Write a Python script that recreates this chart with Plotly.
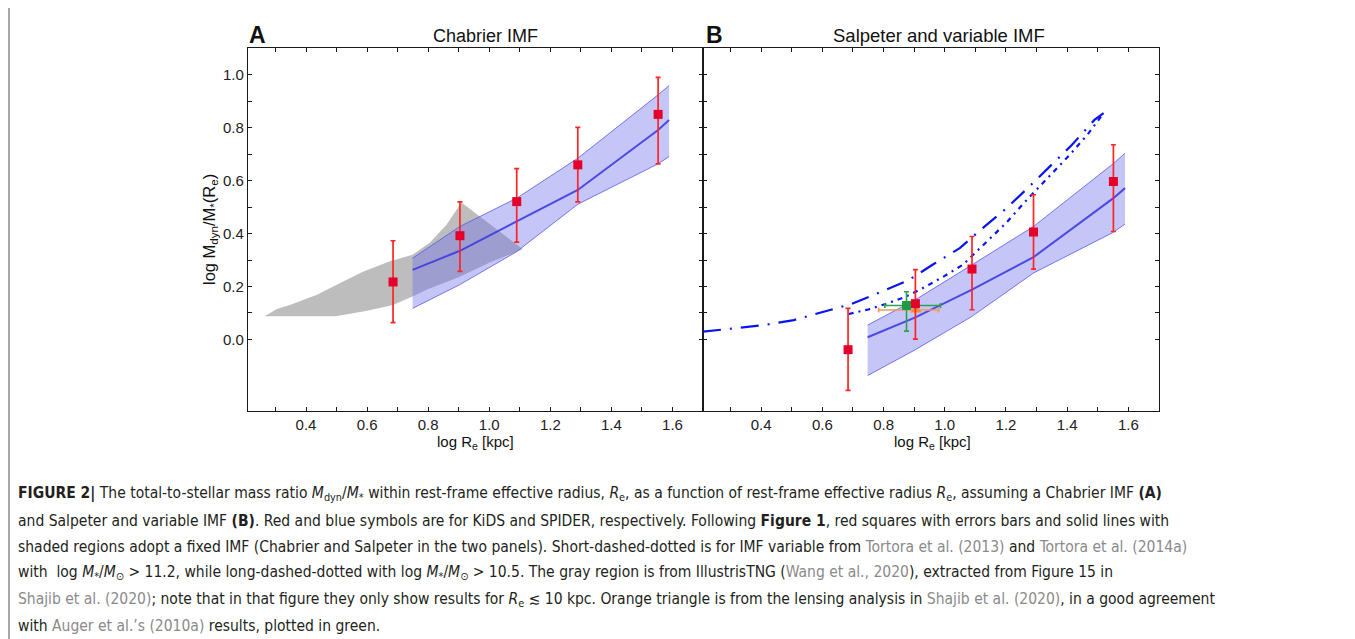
import plotly.graph_objects as go

# the page body has an 8px margin: the figure is sized/offset to fill the window
OFF = 8
W, H = 1355 - OFF, 639 - OFF

# ---------------- data ----------------
# Panel A (Chabrier IMF) - KiDS red squares
a_x = [0.685, 0.904, 1.090, 1.290, 1.553]
a_y = [0.217, 0.392, 0.521, 0.660, 0.851]
a_hi = [0.373, 0.520, 0.646, 0.802, 0.991]
a_lo = [0.063, 0.257, 0.368, 0.520, 0.664]

# Panel A - SPIDER line with band
a_line_x = [0.749, 0.904, 1.090, 1.290, 1.553, 1.589]
a_line_y = [0.263, 0.335, 0.446, 0.565, 0.792, 0.830]
a_band_up = [0.307, 0.427, 0.534, 0.685, 0.925, 0.960]
a_band_lo = [0.117, 0.207, 0.332, 0.511, 0.664, 0.691]

# Panel A - IllustrisTNG gray region
tng_up_x = [0.264, 0.305, 0.349, 0.436, 0.512, 0.588, 0.675, 0.749, 0.806, 0.860, 0.882, 0.909, 1.110]
tng_up_y = [0.087, 0.115, 0.131, 0.169, 0.213, 0.257, 0.295, 0.320, 0.366, 0.433, 0.471, 0.518, 0.341]
tng_lo_x = [1.110, 1.000, 0.900, 0.800, 0.750, 0.685, 0.600, 0.498, 0.264]
tng_lo_y = [0.341, 0.290, 0.235, 0.190, 0.163, 0.130, 0.108, 0.087, 0.087]

# Panel B (Salpeter and variable IMF) - KiDS red squares
b_x = [0.684, 0.904, 1.089, 1.290, 1.551]
b_y = [-0.039, 0.135, 0.266, 0.406, 0.597]
b_hi = [0.117, 0.264, 0.389, 0.547, 0.736]
b_lo = [-0.193, 0.001, 0.112, 0.266, 0.408]

# Panel B - SPIDER line with band
b_line_x = [0.748, 0.904, 1.089, 1.290, 1.551, 1.589]
b_line_y = [0.008, 0.083, 0.188, 0.311, 0.534, 0.572]
b_band_up = [0.054, 0.150, 0.282, 0.427, 0.665, 0.704]
b_band_lo = [-0.137, -0.039, 0.087, 0.251, 0.405, 0.436]

# Panel B - variable IMF, log M* > 10.5 (long-dashed-dotted)
var105_x = [0.210, 0.308, 0.409, 0.507, 0.601, 0.696, 0.791, 0.879, 0.964, 1.049, 1.124, 1.199, 1.271, 1.343, 1.415, 1.489, 1.519]
var105_y = [0.029, 0.041, 0.054, 0.073, 0.103, 0.134, 0.179, 0.222, 0.285, 0.345, 0.421, 0.493, 0.572, 0.652, 0.735, 0.830, 0.856]

# Panel B - variable IMF, log M* > 11.2 (short-dashed-dotted)
var112_x = [0.686, 0.750, 0.810, 0.870, 0.930, 1.000, 1.060, 1.130, 1.200, 1.270, 1.340, 1.410, 1.470, 1.519]
var112_y = [0.096, 0.113, 0.135, 0.160, 0.195, 0.240, 0.283, 0.360, 0.440, 0.530, 0.615, 0.700, 0.780, 0.856]

# Panel B - Auger et al. (2010a), green
aug_x, aug_y = [0.875], [0.128]
aug_xlo, aug_xhi = [0.804], [0.986]
aug_ylo, aug_yhi = [0.031], [0.180]

# Panel B - Shajib et al. (2020) lensing, orange
sha_x, sha_y = [0.906], [0.111]
sha_xlo, sha_xhi = [0.784], [0.980]

x_tick_vals = [0.4, 0.6, 0.8, 1.0, 1.2, 1.4, 1.6]
x_tick_text = ["0.4", "0.6", "0.8", "1.0", "1.2", "1.4", "1.6"]
x_minor_vals = [0.3, 0.5, 0.7, 0.9, 1.1, 1.3, 1.5]
y_tick_vals = [0.0, 0.2, 0.4, 0.6, 0.8, 1.0]
y_tick_text = ["0.0", "0.2", "0.4", "0.6", "0.8", "1.0"]
y_minor_vals = [0.1, 0.3, 0.5, 0.7, 0.9]

# ---------------- style ----------------
RED_M = "#E4002B"
RED_E = "#FF2424"
BLUE = "#0A14F0"
BAND_FILL = "rgba(110,110,235,0.40)"
BAND_EDGE = "rgba(80,80,235,0.75)"
MID = "rgba(60,60,225,0.9)"
GRAY = "#BDBDBD"
FONT = "Liberation Sans"
CAP_FONT = "DejaVu Sans Condensed, Liberation Sans"

fig = go.Figure()


def add_band(x, lo, up, mid, xa, ya):
    fig.add_trace(go.Scatter(x=x, y=lo, mode="lines", line=dict(color=BAND_EDGE, width=1),
                             xaxis=xa, yaxis=ya, showlegend=False, hoverinfo="skip"))
    fig.add_trace(go.Scatter(x=x, y=up, mode="lines", line=dict(color=BAND_EDGE, width=1),
                             fill="tonexty", fillcolor=BAND_FILL,
                             xaxis=xa, yaxis=ya, showlegend=False, hoverinfo="skip"))
    fig.add_trace(go.Scatter(x=x, y=mid, mode="lines", line=dict(color=MID, width=2),
                             xaxis=xa, yaxis=ya, showlegend=False, hoverinfo="skip"))


def add_red(x, y, hi, lo, xa, ya):
    fig.add_trace(go.Scatter(
        x=x, y=y, mode="markers", xaxis=xa, yaxis=ya, showlegend=False,
        marker=dict(symbol="square", size=9, color=RED_M),
        error_y=dict(type="data", symmetric=False,
                     array=[h - v for h, v in zip(hi, y)],
                     arrayminus=[v - l for l, v in zip(lo, y)],
                     color=RED_E, thickness=1.7, width=2.5)))


# Panel A
fig.add_trace(go.Scatter(x=tng_up_x + tng_lo_x, y=tng_up_y + tng_lo_y, mode="lines",
                         fill="toself", fillcolor=GRAY, line=dict(width=0, color=GRAY),
                         xaxis="x", yaxis="y", showlegend=False, hoverinfo="skip"))
add_band(a_line_x, a_band_lo, a_band_up, a_line_y, "x", "y")
add_red(a_x, a_y, a_hi, a_lo, "x", "y")

# Panel B
add_band(b_line_x, b_band_lo, b_band_up, b_line_y, "x2", "y2")
fig.add_trace(go.Scatter(x=var105_x, y=var105_y, mode="lines", xaxis="x2", yaxis="y2",
                         line=dict(color=BLUE, width=2.2, dash="18px,9px,2px,9px"),
                         showlegend=False, hoverinfo="skip"))
fig.add_trace(go.Scatter(x=var112_x, y=var112_y, mode="lines", xaxis="x2", yaxis="y2",
                         line=dict(color=BLUE, width=2.2, dash="5px,5px,2px,5px"),
                         showlegend=False, hoverinfo="skip"))
fig.add_trace(go.Scatter(
    x=sha_x, y=sha_y, mode="markers", xaxis="x2", yaxis="y2", showlegend=False,
    marker=dict(symbol="triangle-up", size=10, color="#F28A3A"),
    error_x=dict(type="data", symmetric=False,
                 array=[sha_xhi[0] - sha_x[0]], arrayminus=[sha_x[0] - sha_xlo[0]],
                 color="#F29A5A", thickness=1.6, width=2.5)))
fig.add_trace(go.Scatter(
    x=aug_x, y=aug_y, mode="markers", xaxis="x2", yaxis="y2", showlegend=False,
    marker=dict(symbol="square", size=9, color="#1F9A45"),
    error_x=dict(type="data", symmetric=False,
                 array=[aug_xhi[0] - aug_x[0]], arrayminus=[aug_x[0] - aug_xlo[0]],
                 color="#2AA34E", thickness=1.6, width=2.5),
    error_y=dict(type="data", symmetric=False,
                 array=[aug_yhi[0] - aug_y[0]], arrayminus=[aug_y[0] - aug_ylo[0]],
                 color="#2AA34E", thickness=1.6, width=2.5)))
add_red(b_x, b_y, b_hi, b_lo, "x2", "y2")


def px(x):
    return (x - OFF) / W


def py(y):
    return 1 - (y - OFF) / H


xd1 = [px(248), px(703)]
xd2 = [px(703), px(1159)]
yd = [py(411), py(48)]

LINE = dict(showgrid=False, zeroline=False, showline=True,
            linecolor="#1a1a1a", linewidth=1.3, mirror="ticks", ticks="inside",
            ticklen=4, tickwidth=1, tickcolor="#1a1a1a", automargin=False)
axis_common = dict(range=[0.21, 1.70], tickmode="array", tickvals=x_tick_vals, ticktext=x_tick_text,
                   minor=dict(tickmode="array", tickvals=x_minor_vals, ticks="inside", ticklen=4,
                              tickwidth=1, tickcolor="#1a1a1a"),
                   tickfont=dict(family=FONT, size=15, color="#222"), **LINE)
yaxis_common = dict(range=[-0.271, 1.102], tickmode="array", tickvals=y_tick_vals, ticktext=y_tick_text,
                    minor=dict(tickmode="array", tickvals=y_minor_vals, ticks="inside", ticklen=4,
                               tickwidth=1, tickcolor="#1a1a1a"),
                    tickfont=dict(family=FONT, size=15, color="#222"), **LINE)

fig.update_layout(
    width=W, height=H, margin=dict(l=0, r=0, t=0, b=0),
    paper_bgcolor="white", plot_bgcolor="white",
    xaxis=dict(domain=xd1, anchor="y", **axis_common),
    yaxis=dict(domain=yd, anchor="x", **yaxis_common),
    xaxis2=dict(domain=xd2, anchor="y2", **axis_common),
    yaxis2=dict(domain=yd, anchor="x2", showticklabels=False, **yaxis_common),
)

ann = []


def text(x, y, s, size, xanchor="center", angle=0, color="#111", family=FONT):
    ann.append(dict(x=px(x), y=py(y), xref="paper", yref="paper", text=s, showarrow=False,
                    xanchor=xanchor, yanchor="middle", textangle=angle,
                    font=dict(family=family, size=size, color=color)))


text(258, 35, "<b>A</b>", 23)
text(714, 35, "<b>B</b>", 23)
text(485, 36, "Chabrier IMF", 18)
text(939, 36, "Salpeter and variable IMF", 18.5)
text(475, 442, "log R<sub>e</sub> [kpc]", 15)
text(932, 442, "log R<sub>e</sub> [kpc]", 15)
text(210, 230, "log M<sub>dyn</sub>/M<sub>*</sub>(R<sub>e</sub>)", 16.5, angle=-90)

G = "<span style='color:#8a8a8a'>"
E = "</span>"
cap = [
    "<b>FIGURE 2</b><b>|</b> The total-to-stellar mass ratio <i>M</i><sub>dyn</sub>/<i>M</i><sub>*</sub> within rest-frame effective radius, <i>R</i><sub>e</sub>, as a function of rest-frame effective radius <i>R</i><sub>e</sub>, assuming a Chabrier IMF <b>(A)</b>",
    "and Salpeter and variable IMF <b>(B)</b>. Red and blue symbols are for KiDS and SPIDER, respectively. Following <b>Figure 1</b>, red squares with errors bars and solid lines with",
    "shaded regions adopt a fixed IMF (Chabrier and Salpeter in the two panels). Short-dashed-dotted is for IMF variable from " + G + "Tortora et al. (2013)" + E + " and " + G + "Tortora et al. (2014a)" + E,
    "with  log <i>M</i><sub>*</sub>/<i>M</i><sub>\u2299</sub> > 11.2, while long-dashed-dotted with log <i>M</i><sub>*</sub>/<i>M</i><sub>\u2299</sub> > 10.5. The gray region is from IllustrisTNG (" + G + "Wang et al., 2020" + E + "), extracted from Figure 15 in",
    G + "Shajib et al. (2020)" + E + "; note that in that figure they only show results for <i>R</i><sub>e</sub> \u2272 10 kpc. Orange triangle is from the lensing analysis in " + G + "Shajib et al. (2020)" + E + ", in a good agreement",
    "with " + G + "Auger et al.\u2019s (2010a)" + E + " results, plotted in green.",
]
cap_y = [494, 521, 547, 573, 600, 626]
for s, yy in zip(cap, cap_y):
    text(16, yy, s, 15.5, xanchor="left", color="#231f20", family=CAP_FONT)

fig.update_layout(annotations=ann)
# outer frame of the figure panel
fig.add_shape(type="line", xref="paper", yref="paper", x0=px(9), x1=px(9), y0=0, y1=1,
              line=dict(color="#777", width=1.3), layer="above")
fig.add_shape(type="line", xref="paper", yref="paper", x0=px(1348.5), x1=px(1348.5), y0=0, y1=1,
              line=dict(color="#777", width=1.3), layer="above")

fig.write_html("out.html")
